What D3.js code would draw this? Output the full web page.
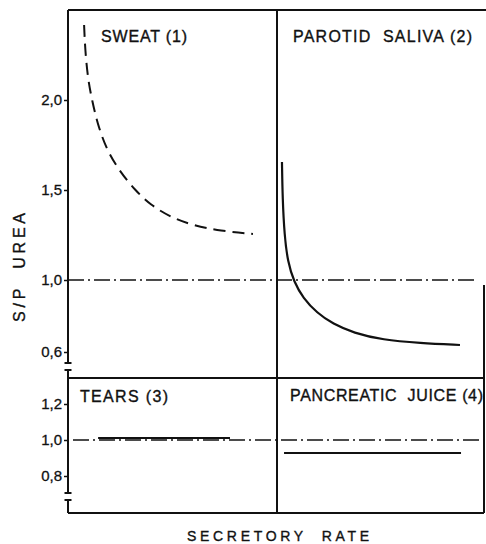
<!DOCTYPE html>
<html>
<head>
<meta charset="utf-8">
<script src="https://cdn.jsdelivr.net/npm/d3@7"></script>
<style>
  html, body { margin: 0; padding: 0; background: #fff; }
  svg { display: block; }
  text { font-family: "Liberation Sans", Arial, sans-serif; fill: #111; }
</style>
</head>
<body>
<div id="chart"></div>
<script>
// ---------- DATA ----------
// x: secretory rate (arbitrary units, 0-10 per panel); y: S/P urea ratio
const sweatX = [0.77, 0.82, 0.96, 1.15, 1.40, 1.85, 2.50, 3.20, 3.95, 4.90, 5.90, 7.30, 8.85];
const sweatY = [2.417, 2.278, 2.111, 2.0, 1.872, 1.722, 1.600, 1.500, 1.417, 1.350, 1.306, 1.272, 1.256];

const salivaX = [0.24, 0.27, 0.36, 0.52, 0.82, 1.26, 1.93, 2.70, 3.70, 5.10, 6.90, 8.84];
const salivaY = [1.656, 1.450, 1.250, 1.100, 0.990, 0.900, 0.817, 0.756, 0.706, 0.667, 0.650, 0.639];

const tearsX = [1.44, 7.75];
const tearsY = [1.011, 1.011];

const pancreasX = [0.34, 8.89];
const pancreasY = [0.928, 0.928];

const referenceLevel = 1.0;

const topTicks = [2.0, 1.5, 1.0, 0.6];
const bottomTicks = [1.2, 1.0, 0.8];

const panelTitles = ["SWEAT (1)", "PAROTID  SALIVA (2)", "TEARS (3)", "PANCREATIC  JUICE (4)"];
const xAxisTitle = "SECRETORY  RATE";
const yAxisTitle = "S/P  UREA";

// ---------- LAYOUT ----------
const W = 486, H = 544;
const L = 68, MID = 277, R = 484, TOP = 10, SPLIT = 378, BOT = 513;

const svg = d3.select("#chart").append("svg").attr("width", W).attr("height", H);

const xLeft = d3.scaleLinear().domain([0, 10]).range([L, MID]);
const xRight = d3.scaleLinear().domain([0, 10]).range([MID, R]);
const yTop = d3.scaleLinear().domain([0.6, 2.0]).range([352, 100]);
const yBot = d3.scaleLinear().domain([0.8, 1.2]).range([476, 404]);

const ink = "#111";

// frame
const frame = svg.append("g").attr("stroke", ink).attr("stroke-width", 2).attr("fill", "none");
frame.append("line").attr("x1", L).attr("x2", W).attr("y1", TOP).attr("y2", TOP);
frame.append("line").attr("x1", MID).attr("x2", MID).attr("y1", TOP).attr("y2", BOT);
frame.append("line").attr("x1", L).attr("x2", R).attr("y1", SPLIT).attr("y2", SPLIT);
frame.append("line").attr("x1", L).attr("x2", R).attr("y1", BOT).attr("y2", BOT);
frame.append("line").attr("x1", R).attr("x2", R).attr("y1", 285).attr("y2", BOT);

// y axes with breaks
function fmt(d) { return d3.format(".1f")(d).replace(".", ","); }

const axTop = svg.append("g").attr("transform", `translate(${L},0)`)
  .call(d3.axisLeft(yTop).tickValues(topTicks).tickFormat(fmt).tickSize(4).tickPadding(2));
axTop.select(".domain").remove();
const axBot = svg.append("g").attr("transform", `translate(${L},0)`)
  .call(d3.axisLeft(yBot).tickValues(bottomTicks).tickFormat(fmt).tickSize(4).tickPadding(2));
axBot.select(".domain").remove();
svg.selectAll(".tick line").attr("stroke", ink).attr("stroke-width", 1.5);
svg.selectAll(".tick text").style("font-family", "'Liberation Sans', Arial, sans-serif")
  .style("font-size", "15px").attr("fill", ink).attr("stroke", ink).attr("stroke-width", 0.3);

// axis segments with break caps
const segs = [[TOP, 363], [370, 493], [500, BOT]];
const axg = svg.append("g").attr("stroke", ink).attr("stroke-width", 2);
segs.forEach(([a, b], i) => {
  axg.append("line").attr("x1", L).attr("x2", L).attr("y1", a).attr("y2", b);
  if (i > 0) axg.append("line").attr("x1", L - 3.5).attr("x2", L + 3.5).attr("y1", a).attr("y2", a);
  if (i < segs.length - 1) axg.append("line").attr("x1", L - 3.5).attr("x2", L + 3.5).attr("y1", b).attr("y2", b);
});

// reference lines (dash-dot)
svg.append("line").attr("x1", L).attr("x2", 478)
  .attr("y1", yTop(referenceLevel)).attr("y2", yTop(referenceLevel))
  .attr("stroke", ink).attr("stroke-width", 1.3).attr("stroke-dasharray", "16,4,2,4");
svg.append("line").attr("x1", 73).attr("x2", R)
  .attr("y1", yBot(referenceLevel)).attr("y2", yBot(referenceLevel))
  .attr("stroke", ink).attr("stroke-width", 1.3).attr("stroke-dasharray", "16,4,2,4");

// curves
const zip = (xs, ys) => xs.map((x, i) => [x, ys[i]]);
const lineL = (ys) => d3.line().x(d => xLeft(d[0])).y(d => ys(d[1])).curve(d3.curveBasis);
const lineR = (ys) => d3.line().x(d => xRight(d[0])).y(d => ys(d[1])).curve(d3.curveBasis);

svg.append("path").datum(zip(sweatX, sweatY)).attr("d", lineL(yTop))
  .attr("fill", "none").attr("stroke", ink).attr("stroke-width", 2).attr("stroke-dasharray", "12,7");
svg.append("path").datum(zip(salivaX, salivaY)).attr("d", lineR(yTop))
  .attr("fill", "none").attr("stroke", ink).attr("stroke-width", 2.2);
svg.append("path").datum(zip(tearsX, tearsY)).attr("d", lineL(yBot))
  .attr("fill", "none").attr("stroke", ink).attr("stroke-width", 2);
svg.append("path").datum(zip(pancreasX, pancreasY)).attr("d", lineR(yBot))
  .attr("fill", "none").attr("stroke", ink).attr("stroke-width", 2);

// titles
const titlePos = [[101, 42, 86], [293, 42, 179], [80, 402, 88], [290, 401, 193]];
panelTitles.forEach((t, i) => {
  svg.append("text").attr("x", titlePos[i][0]).attr("y", titlePos[i][1])
    .style("white-space", "pre")
    .attr("textLength", titlePos[i][2]).attr("lengthAdjust", "spacing")
    .attr("stroke", ink).attr("stroke-width", 0.35)
    .style("font-size", "16px").text(t);
});

svg.append("text").attr("x", 187).attr("y", 541)
  .style("white-space", "pre").attr("textLength", 182).attr("lengthAdjust", "spacing")
  .attr("stroke", ink).attr("stroke-width", 0.35)
  .style("font-size", "14px").text(xAxisTitle);

svg.append("text").attr("transform", "translate(25,322) rotate(-90)")
  .style("white-space", "pre").attr("textLength", 109).attr("lengthAdjust", "spacing")
  .attr("stroke", ink).attr("stroke-width", 0.35)
  .style("font-size", "16px").text(yAxisTitle);
</script>
</body>
</html>
